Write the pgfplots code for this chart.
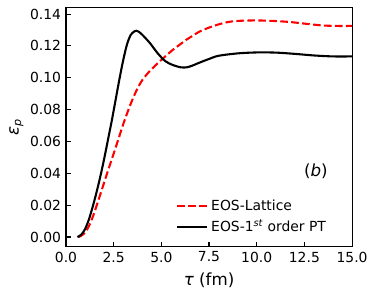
\documentclass[border=0pt]{standalone}
\usepackage{fontspec}
\setmainfont{DejaVu Sans}
\usepackage{pgfplots}
\pgfplotsset{compat=1.18}
\begin{document}
\begin{tikzpicture}
\begin{axis}[
  scale only axis,
  width=205.9pt, height=172.4pt,
  xmin=0, xmax=15, ymin=-0.0062, ymax=0.1442,
  xtick={0,2.5,5,7.5,10,12.5,15},
  ytick={0,0.02,0.04,0.06,0.08,0.10,0.12,0.14},
  xticklabel style={/pgf/number format/.cd, fixed, fixed zerofill, precision=1},
  yticklabel style={/pgf/number format/.cd, fixed, fixed zerofill, precision=2},
  /pgf/number format/assume math mode=true,
  scaled y ticks=false,
  tick align=inside,
  xtick pos=bottom, ytick pos=left,
  major tick length=3.5pt,
  every tick/.style={black, line width=0.8pt},
  axis line style={line width=0.8pt},
  tick label style={font=\fontsize{10}{12}\selectfont},
  xlabel={\fontsize{12}{14}\selectfont\textit{τ} (fm)},
  ylabel={\fontsize{12}{14}\selectfont\textit{ε}\textsubscript{\itshape p}},
  xlabel style={yshift=-1pt},
  ylabel style={yshift=-2pt},
  legend style={draw=none, fill=none, at={(0.375,0.222)}, anchor=north west,
    font=\fontsize{10}{12}\selectfont, row sep=1.5pt, inner sep=2pt},
  legend cell align=left,
  legend image code/.code={\draw[#1] (0cm,0cm) -- (0.76cm,0cm);},
]
\addplot[red, line width=1.5pt, dash pattern=on 5.5pt off 2.4pt, smooth] coordinates {
(0.65,0) (0.8,0.0008) (1.0,0.0028) (1.2,0.0068) (1.4,0.0125) (1.6,0.0195) (1.8,0.0268)
(2.0,0.0342) (2.2,0.0416) (2.4,0.0488) (2.6,0.0560) (2.8,0.0634) (3.0,0.0708) (3.2,0.0775)
(3.4,0.0838) (3.6,0.0895) (3.8,0.0945) (4.0,0.0985) (4.2,0.1016) (4.4,0.1043) (4.6,0.1067)
(4.8,0.1090) (5.0,0.1112) (5.3,0.1144) (5.6,0.1175) (6.0,0.1211) (6.3,0.1238) (6.65,0.1264)
(7.0,0.1290) (7.5,0.1315) (8.0,0.1335) (8.5,0.1350) (9.0,0.1357) (10,0.1360)
(11,0.1356) (11.75,0.1350) (12.5,0.1340) (13.5,0.1328) (14.5,0.1325) (15,0.1326)
};
\addlegendentry{EOS-Lattice}
\addplot[black, line width=1.5pt, smooth] coordinates {
(0.6,0) (0.8,0.0015) (1.0,0.005) (1.2,0.011) (1.4,0.019) (1.6,0.028) (1.8,0.038)
(2.0,0.049) (2.2,0.061) (2.4,0.073) (2.6,0.086) (2.8,0.099) (3.0,0.111) (3.2,0.121)
(3.4,0.1270) (3.6,0.1292) (3.7,0.1295) (3.8,0.1290) (4.0,0.1270) (4.4,0.1218) (4.8,0.1155)
(5.2,0.1105) (5.6,0.1080) (6.0,0.1066) (6.3,0.1065) (6.6,0.1075) (7.0,0.1095) (7.5,0.1118)
(8.0,0.1138) (9.0,0.1153) (10,0.1159) (11,0.1158) (12,0.1150) (13,0.1140) (14,0.1134) (15,0.1134)
};
\addlegendentry{EOS-1\textsuperscript{\itshape st} order PT}
\node at (axis cs:13.1,0.0415) {\fontsize{12}{14}\selectfont(\textit{b})};
\end{axis}
\path (current axis.south west) ++(-47.5pt,-34.8pt) coordinate (bl);
\path (current axis.north east) ++(15.8pt,5.3pt) coordinate (tr);
\path[use as bounding box] (bl) rectangle (tr);
\end{tikzpicture}
\end{document}
